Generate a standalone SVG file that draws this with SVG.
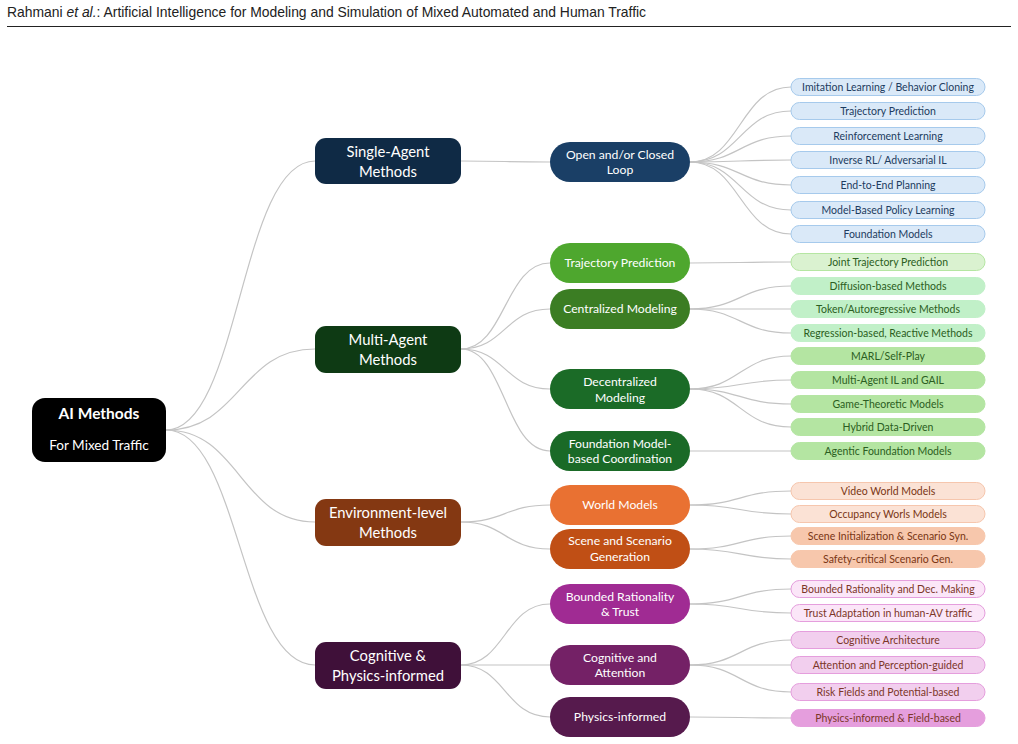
<svg xmlns="http://www.w3.org/2000/svg" width="1018" height="744" viewBox="0 0 1018 744">
<style>
.hdr{font-family:"Liberation Sans",Arial,sans-serif;font-size:13.9px;fill:#222}
.c{fill:none;stroke:#c4c4c4;stroke-width:1.2}
.t{font-family:Lato,"Noto Sans",sans-serif;fill:#fff;text-anchor:middle}
.l1{font-size:14.8px}
.l2{font-size:12.2px}
.lf{font-family:Lato,"Noto Sans",sans-serif;font-size:10.5px;text-anchor:middle}
.bl rect{fill:#dae9f8;stroke:#a6caec}
.bl text{fill:#1d3c60}
.g1 rect{fill:#daf2d0;stroke:#b5e6a2}
.g2 rect{fill:#c1f0c8;stroke:#c1f0c8}
.g3 rect{fill:#b4e5a2;stroke:#b4e5a2}
.g1 text,.g2 text,.g3 text{fill:#2b5e21}
.o1 rect{fill:#fbe2d5;stroke:#f6c6ad}
.o2 rect{fill:#f7c7ac;stroke:#f7c7ac}
.o1 text,.o2 text{fill:#7a3614}
.p1 rect{fill:#fbe6f8;stroke:#e59edd}
.p2 rect{fill:#f2cfee;stroke:#e59edd}
.p3 rect{fill:#e59edd;stroke:#e59edd}
.p1 text,.p2 text,.p3 text{fill:#7c3628}
</style>
<text class="hdr" x="7" y="17">Rahmani <tspan font-style="italic">et al.</tspan>: Artificial Intelligence for Modeling and Simulation of Mixed Automated and Human Traffic</text>
<line x1="7" y1="26.5" x2="1011" y2="26.5" stroke="#222" stroke-width="1"/>
<g id="connectors">
<path class="c" d="M166,430 C240,430 240,161 315,161"/>
<path class="c" d="M166,430 C240,430 240,349 315,349"/>
<path class="c" d="M166,430 C240,430 240,522 315,522"/>
<path class="c" d="M166,430 C240,430 240,665 315,665"/>
<path class="c" d="M461,161 C505,161 505,162 550,162"/>
<path class="c" d="M461,349 C505,349 505,263 550,263"/>
<path class="c" d="M461,349 C505,349 505,309 550,309"/>
<path class="c" d="M461,349 C505,349 505,389 550,389"/>
<path class="c" d="M461,349 C505,349 505,451 550,451"/>
<path class="c" d="M461,522 C505,522 505,505 550,505"/>
<path class="c" d="M461,522 C505,522 505,549 550,549"/>
<path class="c" d="M461,665 C505,665 505,604 550,604"/>
<path class="c" d="M461,665 C505,665 505,665 550,665"/>
<path class="c" d="M461,665 C505,665 505,717 550,717"/>
<path class="c" d="M690,162 C740,162 740,87 791,87"/>
<path class="c" d="M690,162 C740,162 740,111 791,111"/>
<path class="c" d="M690,162 C740,162 740,136 791,136"/>
<path class="c" d="M690,162 C740,162 740,160 791,160"/>
<path class="c" d="M690,162 C740,162 740,185 791,185"/>
<path class="c" d="M690,162 C740,162 740,210 791,210"/>
<path class="c" d="M690,162 C740,162 740,234 791,234"/>
<path class="c" d="M690,263 C740,263 740,262 791,262"/>
<path class="c" d="M690,309 C740,309 740,286 791,286"/>
<path class="c" d="M690,309 C740,309 740,309 791,309"/>
<path class="c" d="M690,309 C740,309 740,333 791,333"/>
<path class="c" d="M690,389 C740,389 740,356 791,356"/>
<path class="c" d="M690,389 C740,389 740,380 791,380"/>
<path class="c" d="M690,389 C740,389 740,404 791,404"/>
<path class="c" d="M690,389 C740,389 740,427 791,427"/>
<path class="c" d="M690,451 C740,451 740,451 791,451"/>
<path class="c" d="M690,505 C740,505 740,491 791,491"/>
<path class="c" d="M690,505 C740,505 740,514 791,514"/>
<path class="c" d="M690,549 C740,549 740,536 791,536"/>
<path class="c" d="M690,549 C740,549 740,559 791,559"/>
<path class="c" d="M690,604 C740,604 740,589 791,589"/>
<path class="c" d="M690,604 C740,604 740,613 791,613"/>
<path class="c" d="M690,665 C740,665 740,640 791,640"/>
<path class="c" d="M690,665 C740,665 740,665 791,665"/>
<path class="c" d="M690,665 C740,665 740,692 791,692"/>
<path class="c" d="M690,717 C740,717 740,718 791,718"/>
</g>
<g id="root">
<rect x="32" y="398" width="134" height="64" rx="13" fill="#000"/>
<text class="t" x="99" y="419" font-size="15.5" font-weight="bold">AI Methods</text>
<text class="t" x="99" y="450" font-size="13.6">For Mixed Traffic</text>
</g>
<g id="single-agent">
<rect x="315" y="138" width="146" height="46" rx="11" fill="#0f2a45"/>
<text class="t l1" x="388" y="157">Single-Agent</text>
<text class="t l1" x="388" y="177">Methods</text>
</g>
<g id="multi-agent">
<rect x="315" y="326" width="146" height="47" rx="11" fill="#0e3a14"/>
<text class="t l1" x="388" y="345">Multi-Agent</text>
<text class="t l1" x="388" y="365">Methods</text>
</g>
<g id="environment">
<rect x="315" y="499" width="146" height="47" rx="11" fill="#843812"/>
<text class="t l1" x="388" y="518">Environment-level</text>
<text class="t l1" x="388" y="538">Methods</text>
</g>
<g id="cognitive">
<rect x="315" y="642" width="146" height="47" rx="11" fill="#3f1039"/>
<text class="t l1" x="388" y="661">Cognitive &amp;</text>
<text class="t l1" x="388" y="681">Physics-informed</text>
</g>
<g id="open-closed">
<rect x="550" y="142" width="140" height="40" rx="20" fill="#1a3f66"/>
<text class="t l2" x="620" y="159">Open and/or Closed</text>
<text class="t l2" x="620" y="174">Loop</text>
</g>
<g id="traj-pred">
<rect x="550" y="243" width="140" height="40" rx="20" fill="#4ea72e"/>
<text class="t l2" x="620" y="267">Trajectory Prediction</text>
</g>
<g id="centralized">
<rect x="550" y="289" width="140" height="40" rx="20" fill="#3b7d23"/>
<text class="t l2" x="620" y="313">Centralized Modeling</text>
</g>
<g id="decentralized">
<rect x="550" y="369" width="140" height="40" rx="20" fill="#1b6b27"/>
<text class="t l2" x="620" y="386">Decentralized</text>
<text class="t l2" x="620" y="402">Modeling</text>
</g>
<g id="foundation-coord">
<rect x="550" y="431" width="140" height="40" rx="20" fill="#1a6a27"/>
<text class="t l2" x="620" y="448">Foundation Model-</text>
<text class="t l2" x="620" y="463">based Coordination</text>
</g>
<g id="world-models">
<rect x="550" y="485" width="140" height="40" rx="20" fill="#e97132"/>
<text class="t l2" x="620" y="509">World Models</text>
</g>
<g id="scene-gen">
<rect x="550" y="529" width="140" height="40" rx="20" fill="#c04f15"/>
<text class="t l2" x="620" y="545">Scene and Scenario</text>
<text class="t l2" x="620" y="561">Generation</text>
</g>
<g id="bounded">
<rect x="550" y="584" width="140" height="40" rx="20" fill="#a02b93"/>
<text class="t l2" x="620" y="601">Bounded Rationality</text>
<text class="t l2" x="620" y="616">&amp; Trust</text>
</g>
<g id="cog-attention">
<rect x="550" y="645" width="140" height="40" rx="20" fill="#742166"/>
<text class="t l2" x="620" y="662">Cognitive and</text>
<text class="t l2" x="620" y="677">Attention</text>
</g>
<g id="physics">
<rect x="550" y="697" width="140" height="40" rx="20" fill="#561a4d"/>
<text class="t l2" x="620" y="721">Physics-informed</text>
</g>
<g id="leaf-il" class="bl"><rect x="791" y="78.5" width="194" height="17" rx="8.5"/><text class="lf" x="888" y="90.7">Imitation Learning / Behavior Cloning</text></g>
<g id="leaf-tp" class="bl"><rect x="791" y="102.5" width="194" height="17" rx="8.5"/><text class="lf" x="888" y="114.7">Trajectory Prediction</text></g>
<g id="leaf-rl" class="bl"><rect x="791" y="127.5" width="194" height="17" rx="8.5"/><text class="lf" x="888" y="139.7">Reinforcement Learning</text></g>
<g id="leaf-irl" class="bl"><rect x="791" y="151.5" width="194" height="17" rx="8.5"/><text class="lf" x="888" y="163.7">Inverse RL/ Adversarial IL</text></g>
<g id="leaf-e2e" class="bl"><rect x="791" y="176.5" width="194" height="17" rx="8.5"/><text class="lf" x="888" y="188.7">End-to-End Planning</text></g>
<g id="leaf-mbpl" class="bl"><rect x="791" y="201.5" width="194" height="17" rx="8.5"/><text class="lf" x="888" y="213.7">Model-Based Policy Learning</text></g>
<g id="leaf-fm" class="bl"><rect x="791" y="225.5" width="194" height="17" rx="8.5"/><text class="lf" x="888" y="237.7">Foundation Models</text></g>
<g id="leaf-jtp" class="g1"><rect x="791" y="253.5" width="194" height="17" rx="8.5"/><text class="lf" x="888" y="265.7">Joint Trajectory Prediction</text></g>
<g id="leaf-diff" class="g2"><rect x="791" y="277.5" width="194" height="17" rx="8.5"/><text class="lf" x="888" y="289.7">Diffusion-based Methods</text></g>
<g id="leaf-token" class="g2"><rect x="791" y="300.5" width="194" height="17" rx="8.5"/><text class="lf" x="888" y="312.7">Token/Autoregressive Methods</text></g>
<g id="leaf-regr" class="g2"><rect x="791" y="324.5" width="194" height="17" rx="8.5"/><text class="lf" x="888" y="336.7">Regression-based, Reactive Methods</text></g>
<g id="leaf-marl" class="g3"><rect x="791" y="347.5" width="194" height="17" rx="8.5"/><text class="lf" x="888" y="359.7">MARL/Self-Play</text></g>
<g id="leaf-magail" class="g3"><rect x="791" y="371.5" width="194" height="17" rx="8.5"/><text class="lf" x="888" y="383.7">Multi-Agent IL and GAIL</text></g>
<g id="leaf-game" class="g3"><rect x="791" y="395.5" width="194" height="17" rx="8.5"/><text class="lf" x="888" y="407.7">Game-Theoretic Models</text></g>
<g id="leaf-hybrid" class="g3"><rect x="791" y="418.5" width="194" height="17" rx="8.5"/><text class="lf" x="888" y="430.7">Hybrid Data-Driven</text></g>
<g id="leaf-agentic" class="g3"><rect x="791" y="442.5" width="194" height="17" rx="8.5"/><text class="lf" x="888" y="454.7">Agentic Foundation Models</text></g>
<g id="leaf-video" class="o1"><rect x="791" y="482.5" width="194" height="17" rx="8.5"/><text class="lf" x="888" y="494.7">Video World Models</text></g>
<g id="leaf-occ" class="o1"><rect x="791" y="505.5" width="194" height="17" rx="8.5"/><text class="lf" x="888" y="517.7">Occupancy Worls Models</text></g>
<g id="leaf-scene" class="o2"><rect x="791" y="527.5" width="194" height="17" rx="8.5"/><text class="lf" x="888" y="539.7">Scene Initialization &amp; Scenario Syn.</text></g>
<g id="leaf-safety" class="o2"><rect x="791" y="550.5" width="194" height="17" rx="8.5"/><text class="lf" x="888" y="562.7">Safety-critical Scenario Gen.</text></g>
<g id="leaf-brdm" class="p1"><rect x="791" y="580.5" width="194" height="17" rx="8.5"/><text class="lf" x="888" y="592.7">Bounded Rationality and Dec. Making</text></g>
<g id="leaf-trust" class="p1"><rect x="791" y="604.5" width="194" height="17" rx="8.5"/><text class="lf" x="888" y="616.7">Trust Adaptation in human-AV traffic</text></g>
<g id="leaf-cogarch" class="p2"><rect x="791" y="631.5" width="194" height="17" rx="8.5"/><text class="lf" x="888" y="643.7">Cognitive Architecture</text></g>
<g id="leaf-attn" class="p2"><rect x="791" y="656.5" width="194" height="17" rx="8.5"/><text class="lf" x="888" y="668.7">Attention and Perception-guided</text></g>
<g id="leaf-risk" class="p2"><rect x="791" y="683.5" width="194" height="17" rx="8.5"/><text class="lf" x="888" y="695.7">Risk Fields and Potential-based</text></g>
<g id="leaf-phys" class="p3"><rect x="791" y="709.5" width="194" height="17" rx="8.5"/><text class="lf" x="888" y="721.7">Physics-informed &amp; Field-based</text></g>
</svg>
